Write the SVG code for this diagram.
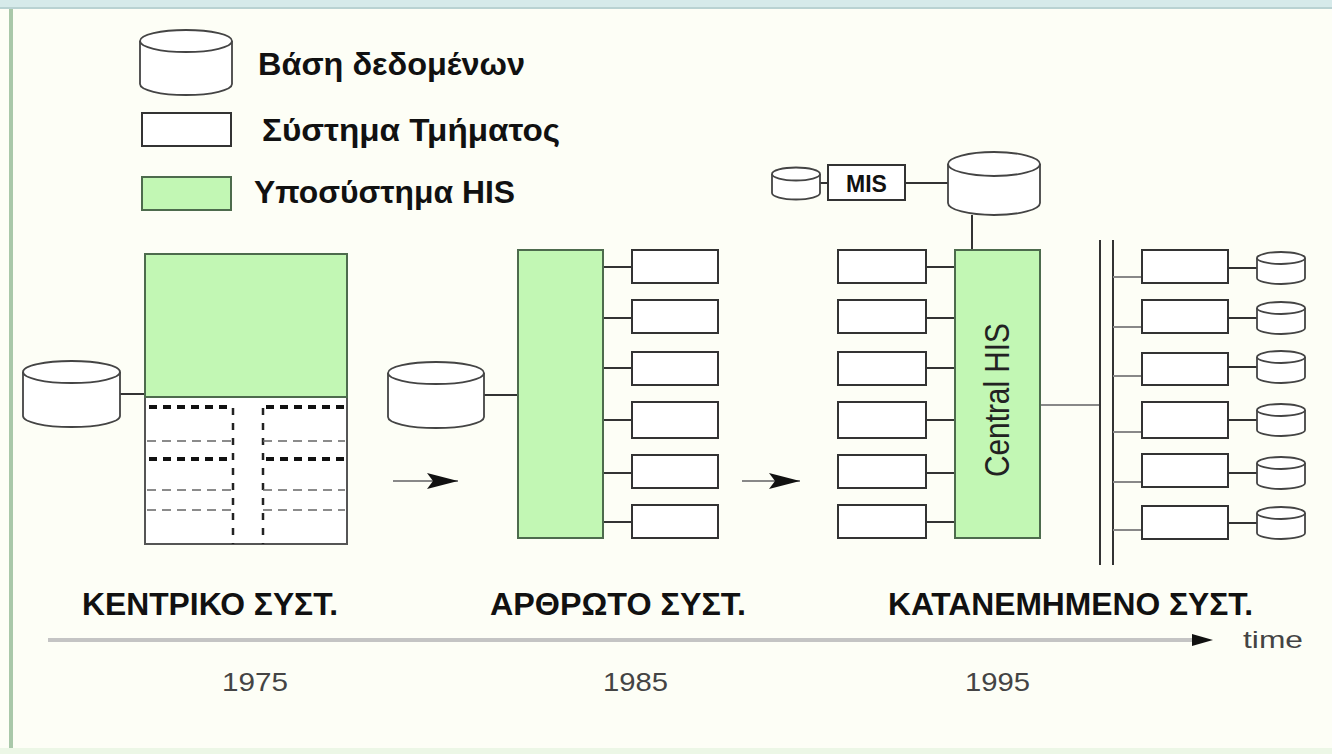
<svg xmlns="http://www.w3.org/2000/svg" width="1332" height="754" viewBox="0 0 1332 754">
<style>
.bg{fill:#fdfef6}
.box{fill:#ffffff;stroke:#333;stroke-width:2}
.his{fill:#c2f7b4;stroke:#4d6b4d;stroke-width:2}
.cyl{fill:#ffffff;stroke:#444;stroke-width:1.8}
.ln{stroke:#333;stroke-width:2;fill:none}
.lnl{stroke:#888;stroke-width:2;fill:none}
.lbl{font-family:"Liberation Sans",Arial,sans-serif;font-weight:bold;fill:#111}
.yr{font-family:"Liberation Sans",Arial,sans-serif;fill:#444}
.dk{stroke:#111;stroke-width:4;stroke-dasharray:8 6;fill:none}
.dv{stroke:#222;stroke-width:2.5;stroke-dasharray:7 8;fill:none}
.dt{stroke:#666;stroke-width:1.6;stroke-dasharray:9 6;fill:none}
</style>
<defs>
<marker id="ah" markerWidth="32" markerHeight="18" refX="31" refY="9" orient="auto" markerUnits="userSpaceOnUse">
<path d="M0,1 L31,9 L0,17 L6,9 Z" fill="#111"/>
</marker>
</defs>
<rect class="bg" x="0" y="0" width="1332" height="754"/>
<rect x="0" y="0" width="1332" height="7" fill="#d6eaea"/>
<rect x="0" y="7" width="1332" height="2" fill="#b9d2d2"/>
<rect x="9" y="9" width="4" height="745" fill="#a9c8a9"/>
<rect x="0" y="748" width="1332" height="6" fill="#ecf7e6"/>

<g id="legend">
<path class="cyl" d="M140,41 L140,84 A46,11 0 0 0 232,84 L232,41"/>
<ellipse class="cyl" cx="186" cy="41" rx="46" ry="11"/>
<text class="lbl" x="258" y="75" font-size="32" textLength="267" lengthAdjust="spacingAndGlyphs">Βάση δεδομένων</text>
<rect class="box" x="142" y="113" width="89" height="33"/>
<text class="lbl" x="262" y="141" font-size="32" textLength="298" lengthAdjust="spacingAndGlyphs">Σύστημα Τμήματος</text>
<rect class="his" x="142" y="177" width="89" height="33"/>
<text class="lbl" x="254" y="203" font-size="32" textLength="261" lengthAdjust="spacingAndGlyphs">Υποσύστημα HIS</text>
</g>

<g id="connectors">
<line class="ln" x1="120" y1="394" x2="146" y2="394"/>
<line class="ln" x1="484" y1="395" x2="518" y2="395"/>
<line class="ln" x1="603" y1="267" x2="632" y2="267"/>
<line class="ln" x1="603" y1="318" x2="632" y2="318"/>
<line class="ln" x1="603" y1="368" x2="632" y2="368"/>
<line class="ln" x1="603" y1="420" x2="632" y2="420"/>
<line class="ln" x1="603" y1="473" x2="632" y2="473"/>
<line class="ln" x1="603" y1="522" x2="632" y2="522"/>
<line class="lnl" x1="393" y1="481" x2="458" y2="481" marker-end="url(#ah)"/>
<line class="lnl" x1="742" y1="481" x2="800" y2="481" marker-end="url(#ah)"/>
<line class="ln" x1="820" y1="183" x2="828" y2="183"/>
<line class="ln" x1="905" y1="183" x2="948" y2="183"/>
<line class="ln" x1="972" y1="215" x2="972" y2="250"/>
<line class="ln" x1="926" y1="267" x2="955" y2="267"/>
<line class="ln" x1="926" y1="318" x2="955" y2="318"/>
<line class="ln" x1="926" y1="368" x2="955" y2="368"/>
<line class="ln" x1="926" y1="420" x2="955" y2="420"/>
<line class="ln" x1="926" y1="473" x2="955" y2="473"/>
<line class="ln" x1="926" y1="522" x2="955" y2="522"/>
<line class="lnl" x1="1040" y1="405" x2="1100" y2="405"/>
<line class="ln" x1="1100" y1="240" x2="1100" y2="565"/>
<line class="ln" x1="1113" y1="240" x2="1113" y2="565"/>
<line class="lnl" x1="1113" y1="277" x2="1142" y2="277"/>
<line class="lnl" x1="1113" y1="327" x2="1142" y2="327"/>
<line class="lnl" x1="1113" y1="376" x2="1142" y2="376"/>
<line class="lnl" x1="1113" y1="432" x2="1142" y2="432"/>
<line class="lnl" x1="1113" y1="482" x2="1142" y2="482"/>
<line class="lnl" x1="1113" y1="530" x2="1142" y2="530"/>
<line class="ln" x1="1228" y1="268" x2="1257" y2="268"/>
<line class="ln" x1="1228" y1="318" x2="1257" y2="318"/>
<line class="ln" x1="1228" y1="367" x2="1257" y2="367"/>
<line class="ln" x1="1228" y1="420" x2="1257" y2="420"/>
<line class="ln" x1="1228" y1="473" x2="1257" y2="473"/>
<line class="ln" x1="1228" y1="523" x2="1257" y2="523"/>
<line x1="48" y1="640" x2="1200" y2="640" stroke="#c4c4c4" stroke-width="4"/>
<path d="M1192,634 L1213,640 L1192,646 Z" fill="#111"/>
</g>

<g id="central-1975">
<path class="cyl" d="M23,372 L23,416 A48.5,11 0 0 0 120,416 L120,372"/>
<ellipse class="cyl" cx="71.5" cy="372" rx="48.5" ry="11"/>
<rect x="145" y="254" width="202" height="290" fill="#ffffff" stroke="#555" stroke-width="2"/>
<rect x="145" y="254" width="202" height="143" class="his"/>
<line class="dk" x1="149" y1="407" x2="233" y2="407"/>
<line class="dk" x1="266" y1="407" x2="345" y2="407"/>
<line class="dk" x1="149" y1="459" x2="233" y2="459"/>
<line class="dk" x1="266" y1="459" x2="345" y2="459"/>
<line class="dv" x1="233" y1="408" x2="233" y2="544"/>
<line class="dv" x1="263" y1="408" x2="263" y2="544"/>
<line class="dt" x1="147" y1="441" x2="233" y2="441"/>
<line class="dt" x1="263" y1="441" x2="345" y2="441"/>
<line class="dt" x1="147" y1="490" x2="233" y2="490"/>
<line class="dt" x1="263" y1="490" x2="345" y2="490"/>
<line class="dt" x1="147" y1="510" x2="233" y2="510" stroke="#999"/>
<line class="dt" x1="263" y1="510" x2="345" y2="510" stroke="#999"/>
</g>

<g id="modular-1985">
<path class="cyl" d="M388,373 L388,417 A48,11 0 0 0 484,417 L484,373"/>
<ellipse class="cyl" cx="436" cy="373" rx="48" ry="11"/>
<rect class="his" x="518" y="250" width="85" height="288"/>
<rect class="box" x="632" y="250" width="86" height="33"/>
<rect class="box" x="632" y="300" width="86" height="33"/>
<rect class="box" x="632" y="352" width="86" height="33"/>
<rect class="box" x="632" y="402" width="86" height="36"/>
<rect class="box" x="632" y="455" width="86" height="33"/>
<rect class="box" x="632" y="505" width="86" height="33"/>
</g>

<g id="distributed-1995">
<path class="cyl" d="M772,174 L772,193 A24,6.5 0 0 0 820,193 L820,174"/>
<ellipse class="cyl" cx="796" cy="174" rx="24" ry="6.5"/>
<rect class="box" x="828" y="165" width="77" height="35"/>
<text class="lbl" x="866.5" y="192" font-size="23" text-anchor="middle" fill="#222">MIS</text>
<path class="cyl" d="M948,164 L948,203 A46,12 0 0 0 1040,203 L1040,164"/>
<ellipse class="cyl" cx="994" cy="164" rx="46" ry="12"/>
<rect class="box" x="838" y="250" width="88" height="33"/>
<rect class="box" x="838" y="300" width="88" height="33"/>
<rect class="box" x="838" y="352" width="88" height="33"/>
<rect class="box" x="838" y="402" width="88" height="36"/>
<rect class="box" x="838" y="455" width="88" height="33"/>
<rect class="box" x="838" y="505" width="88" height="33"/>
<rect class="his" x="955" y="250" width="85" height="288"/>
<text x="1009" y="400" font-family="Liberation Sans,Arial,sans-serif" font-size="35" fill="#222" text-anchor="middle" transform="rotate(-90 1009 400)" textLength="154" lengthAdjust="spacingAndGlyphs">Central HIS</text>
<rect class="box" x="1142" y="250" width="86" height="33"/>
<rect class="box" x="1142" y="300" width="86" height="33"/>
<rect class="box" x="1142" y="353" width="86" height="32"/>
<rect class="box" x="1142" y="402" width="86" height="36"/>
<rect class="box" x="1142" y="454" width="86" height="33"/>
<rect class="box" x="1142" y="506" width="86" height="33"/>
<path class="cyl" d="M1257,258 L1257,278 A24,6 0 0 0 1305,278 L1305,258"/>
<ellipse class="cyl" cx="1281" cy="258" rx="24" ry="6"/>
<path class="cyl" d="M1257,308 L1257,328 A24,6 0 0 0 1305,328 L1305,308"/>
<ellipse class="cyl" cx="1281" cy="308" rx="24" ry="6"/>
<path class="cyl" d="M1257,357 L1257,377 A24,6 0 0 0 1305,377 L1305,357"/>
<ellipse class="cyl" cx="1281" cy="357" rx="24" ry="6"/>
<path class="cyl" d="M1257,410 L1257,430 A24,6 0 0 0 1305,430 L1305,410"/>
<ellipse class="cyl" cx="1281" cy="410" rx="24" ry="6"/>
<path class="cyl" d="M1257,463 L1257,483 A24,6 0 0 0 1305,483 L1305,463"/>
<ellipse class="cyl" cx="1281" cy="463" rx="24" ry="6"/>
<path class="cyl" d="M1257,513 L1257,533 A24,6 0 0 0 1305,533 L1305,513"/>
<ellipse class="cyl" cx="1281" cy="513" rx="24" ry="6"/>
</g>

<g id="labels">
<text class="lbl" x="82" y="615" font-size="32" textLength="256" lengthAdjust="spacingAndGlyphs">ΚΕΝΤΡΙΚΟ ΣΥΣΤ.</text>
<text class="lbl" x="490" y="615" font-size="32" textLength="256" lengthAdjust="spacingAndGlyphs">ΑΡΘΡΩΤΟ ΣΥΣΤ.</text>
<text class="lbl" x="888" y="615" font-size="32" textLength="365" lengthAdjust="spacingAndGlyphs">ΚΑΤΑΝΕΜΗΜΕΝΟ ΣΥΣΤ.</text>
<text class="yr" x="1243" y="648" font-size="24" textLength="60" lengthAdjust="spacingAndGlyphs">time</text>
<text class="yr" x="222" y="691" font-size="26" textLength="66" lengthAdjust="spacingAndGlyphs">1975</text>
<text class="yr" x="603" y="691" font-size="26" textLength="65" lengthAdjust="spacingAndGlyphs">1985</text>
<text class="yr" x="965" y="691" font-size="26" textLength="65" lengthAdjust="spacingAndGlyphs">1995</text>
</g>
</svg>
